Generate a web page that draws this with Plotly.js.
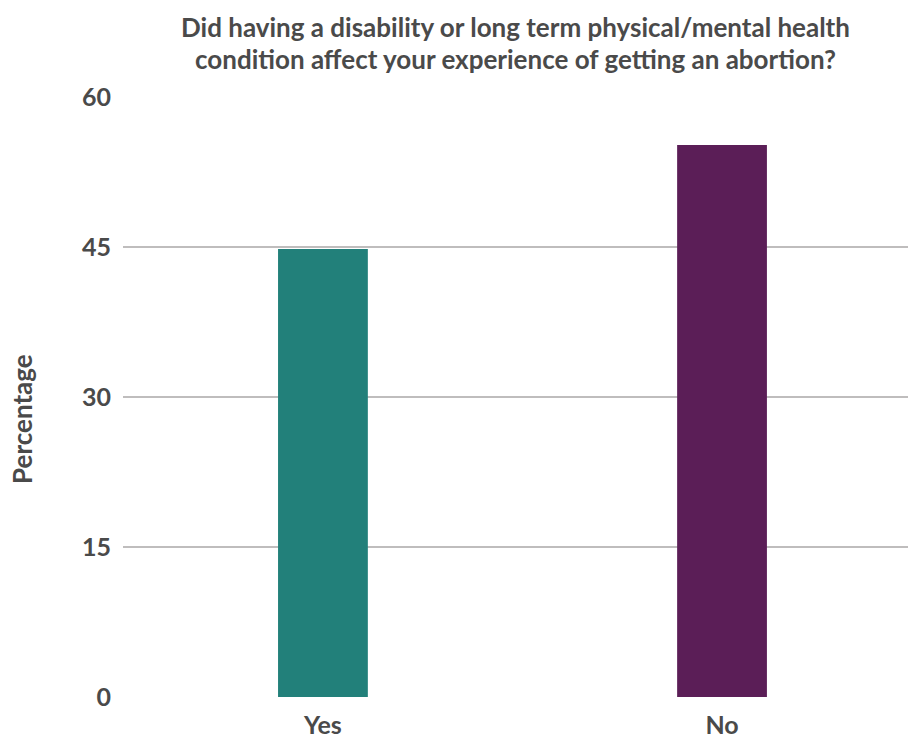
<!DOCTYPE html>
<html>
<head>
<meta charset="utf-8">
<script src="https://cdn.plot.ly/plotly-3.0.1.min.js"></script>
<style>html,body{margin:0;padding:0;background:#fff;}#chart{width:908px;height:738px;}</style>
</head>
<body>
<div id="chart"></div>
<script>
const categories = ['Yes', 'No'];
const percentages = [44.8, 55.2];
const barColors = ['#22807a', '#5b1e57'];
const yTicks = [0, 15, 30, 45, 60];
const titleLines = [
  'Did having a disability or long term physical/mental health',
  'condition affect your experience of getting an abortion?'
];
const yTitle = 'Percentage';

const textColor = '#4a4a4a';
const font = {family: 'Lato, "Open Sans", sans-serif', weight: 700, color: textColor};

const trace = {
  type: 'bar',
  x: categories,
  y: percentages,
  marker: {color: barColors},
  width: 0.225,
  hoverinfo: 'x+y'
};

const titleY = [1.1167, 1.0633];

const layout = {
  width: 908,
  height: 738,
  margin: {l: 123, r: 0, t: 97, b: 41},
  paper_bgcolor: '#ffffff',
  plot_bgcolor: '#ffffff',
  showlegend: false,
  font: font,
  xaxis: {
    type: 'category',
    range: [-0.501, 1.466],
    showgrid: false,
    zeroline: false,
    showline: false,
    ticks: '',
    tickfont: Object.assign({}, font, {size: 25}),
    ticklabelstandoff: 11
  },
  yaxis: {
    range: [0, 60],
    tickvals: yTicks,
    ticktext: yTicks.map(String),
    showgrid: true,
    gridcolor: '#bfbdbd',
    gridwidth: 2.5,
    zeroline: false,
    showline: false,
    ticks: '',
    tickfont: Object.assign({}, font, {size: 25}),
    ticklabelstandoff: 11
  },
  annotations: titleLines.map((t, i) => ({
    text: t,
    xref: 'paper', yref: 'paper',
    x: 0.5, y: titleY[i],
    xanchor: 'center', yanchor: 'middle',
    showarrow: false,
    font: Object.assign({}, font, {size: 26})
  })).concat([{
    text: yTitle,
    textangle: -90,
    xref: 'paper', yref: 'paper',
    x: -0.129, y: 0.463,
    xanchor: 'center', yanchor: 'middle',
    showarrow: false,
    font: Object.assign({}, font, {size: 26})
  }])
};

Plotly.newPlot('chart', [trace], layout, {displayModeBar: false, staticPlot: true});
</script>
</body>
</html>
